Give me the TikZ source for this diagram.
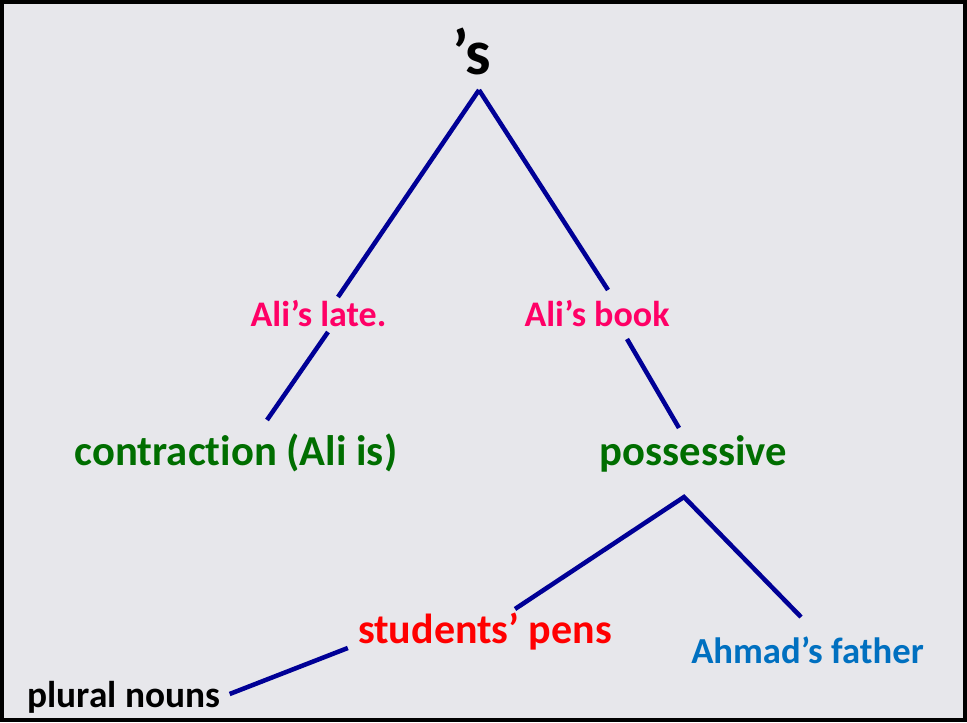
\documentclass[tikz,border=0pt]{standalone}
\usepackage{fontspec}
\setmainfont{Carlito}[Ligatures=NoCommon]
\usetikzlibrary{calc}
\definecolor{navy}{RGB}{0,0,150}
\definecolor{marble}{RGB}{231,231,235}
\definecolor{pinkish}{RGB}{255,0,102}
\definecolor{leaf}{RGB}{0,110,0}
\definecolor{skyblue}{RGB}{0,112,192}
\newcommand{\fs}[1]{\fontsize{#1}{1.2\dimexpr#1pt\relax}\selectfont\bfseries}

\begin{document}
\begin{tikzpicture}[
  x=0.75pt, y=0.75pt,
  word/.style={anchor=base, inner sep=0pt},
  branch/.style={draw=navy, line width=3.4pt}
]
\useasboundingbox (0,0) rectangle (967,722);
\fill[marble] (0,0) rectangle (967,722);
\draw[line width=3pt] (2,2) rectangle (965,720);

\node[word, font=\fs{48}] (s) at (472,647) {’s};
\node[word, font=\fs{27}, text=pinkish] (late) at (318.5,395) {Ali’s late.};
\node[word, font=\fs{27}, text=pinkish] (book) at (597,395) {Ali’s book};
\node[word, font=\fs{32}, text=leaf] (contr) at (236,257) {contraction (Ali is)};
\node[word, font=\fs{32}, text=leaf] (poss) at (693.5,257) {possessive};
\node[word, font=\fs{31.5}, text=red] (pens) at (485,79) {students’ pens};
\node[word, font=\fs{27.5}, text=skyblue] (father) at (807.5,59) {Ahmad’s father};
\node[word, font=\fs{28}] (plural) at (124,15) {plural nouns};

% upper tree
\draw[branch] ($(s.base)+(7,-15)$) -- ($(late.base)+(19.5,30)$);
\draw[branch] ($(late.base)+(9.5,-5)$) -- ($(contr.base)+(31,45)$);
\draw[branch] ($(s.base)+(7,-15)$) -- ($(book.base)+(11,37)$);
\draw[branch] ($(book.base)+(30,-12)$) -- ($(poss.base)+(-14.5,37)$);
% lower tree
\draw[branch, line join=miter] ($(pens.base)+(30,34)$) -- ($(poss.base)+(-9.5,-32)$) -- ($(father.base)+(-6.5,46)$);
\draw[branch] ($(pens.base west)+(-10,-5)$) -- ($(plural.base east)+(9,13)$);
\end{tikzpicture}
\end{document}
